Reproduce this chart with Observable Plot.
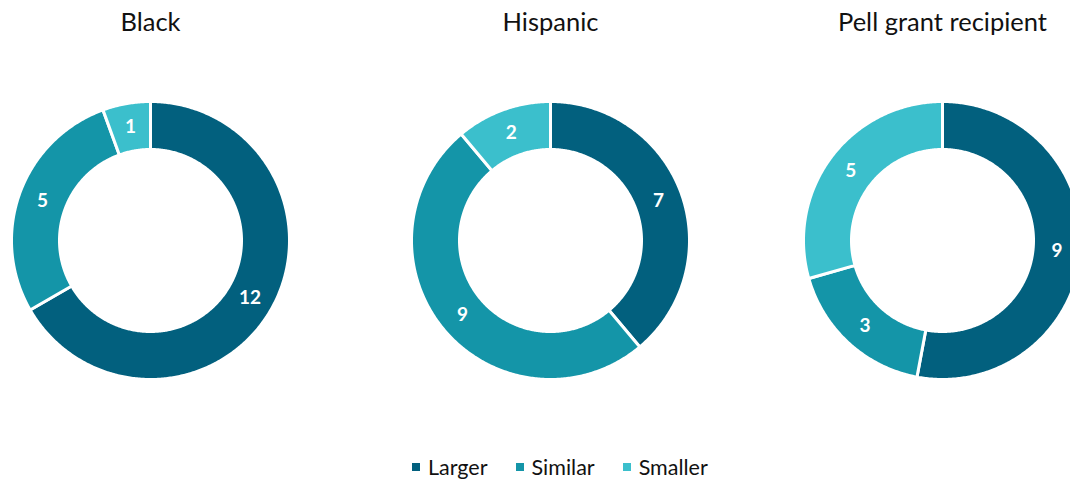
<!DOCTYPE html>
<html><head><meta charset="utf-8">
<script src="https://cdn.jsdelivr.net/npm/d3@7"></script>
<script src="https://cdn.jsdelivr.net/npm/@observablehq/plot@0.6"></script>
<style>
html,body{margin:0;padding:0;background:#fff;overflow:hidden;}
#wrap{position:relative;width:1070px;height:479px;font-family:Lato,"Open Sans",sans-serif;}
#legend{position:absolute;left:0;top:454px;width:1070px;height:26px;box-sizing:border-box;padding-left:398px;display:flex;justify-content:flex-start;align-items:center;font-size:21.5px;color:#111;}
#legend .item{display:flex;align-items:center;margin:0 14px;}
#legend .sw{width:8px;height:8px;margin-right:8px;}
</style>
</head><body><div id="wrap"><div id="chart"></div><div id="legend"></div></div>
<script>
const groups = ["Black", "Hispanic", "Pell grant recipient"];
const categories = ["Larger", "Similar", "Smaller"];
const larger = [12, 7, 9];
const similar = [5, 9, 3];
const smaller = [1, 2, 5];
const colors = ["#02607e", "#1495a8", "#3bbfcc"];

// layout
const W = 1070, H = 440;
const centersX = [150, 550, 942];
const centerY = 240;
const R = 139, r = 91;

const points = [];
const labels = [];
groups.forEach((g, gi) => {
  const vals = [larger[gi], similar[gi], smaller[gi]];
  const arcs = d3.pie().sort(null)(vals);
  const cx = centersX[gi];
  arcs.forEach((a, ci) => {
    const id = g + "|" + categories[ci];
    const n = Math.max(8, Math.ceil((a.endAngle - a.startAngle) / 0.01));
    for (let k = 0; k <= n; k++) {
      const t = a.startAngle + (a.endAngle - a.startAngle) * k / n;
      points.push({id, cat: categories[ci], x: cx + R * Math.sin(t), y: centerY - R * Math.cos(t)});
    }
    for (let k = n; k >= 0; k--) {
      const t = a.startAngle + (a.endAngle - a.startAngle) * k / n;
      points.push({id, cat: categories[ci], x: cx + r * Math.sin(t), y: centerY - r * Math.cos(t)});
    }
    const m = (a.startAngle + a.endAngle) / 2, rm = (R + r) / 2;
    labels.push({x: cx + rm * Math.sin(m), y: centerY - rm * Math.cos(m), text: String(a.value)});
  });
});
const titles = groups.map((g, gi) => ({x: centersX[gi], y: 22, text: g}));

const chart = Plot.plot({
  width: W, height: H,
  margin: 0,
  x: {domain: [0, W], range: [0, W], axis: null},
  y: {domain: [0, H], range: [0, H], axis: null},
  color: {domain: categories, range: colors},
  style: {fontFamily: "Lato, 'Open Sans', sans-serif", background: "white"},
  marks: [
    Plot.line(points, {x: "x", y: "y", z: "id", fill: "cat", stroke: "white", strokeWidth: 3, curve: "linear-closed", clip: true}),
    Plot.text(labels, {x: "x", y: "y", text: "text", fill: "white", fontWeight: "bold", fontSize: 19, clip: true}),
    Plot.text(titles, {x: "x", y: "y", text: "text", fill: "#111", fontSize: 25.5})
  ]
});
document.getElementById("chart").appendChild(chart);

const leg = document.getElementById("legend");
categories.forEach((c, i) => {
  const it = document.createElement("div"); it.className = "item";
  const sw = document.createElement("div"); sw.className = "sw"; sw.style.background = colors[i];
  const tx = document.createElement("span"); tx.textContent = c;
  it.appendChild(sw); it.appendChild(tx); leg.appendChild(it);
});
</script>
</body></html>
